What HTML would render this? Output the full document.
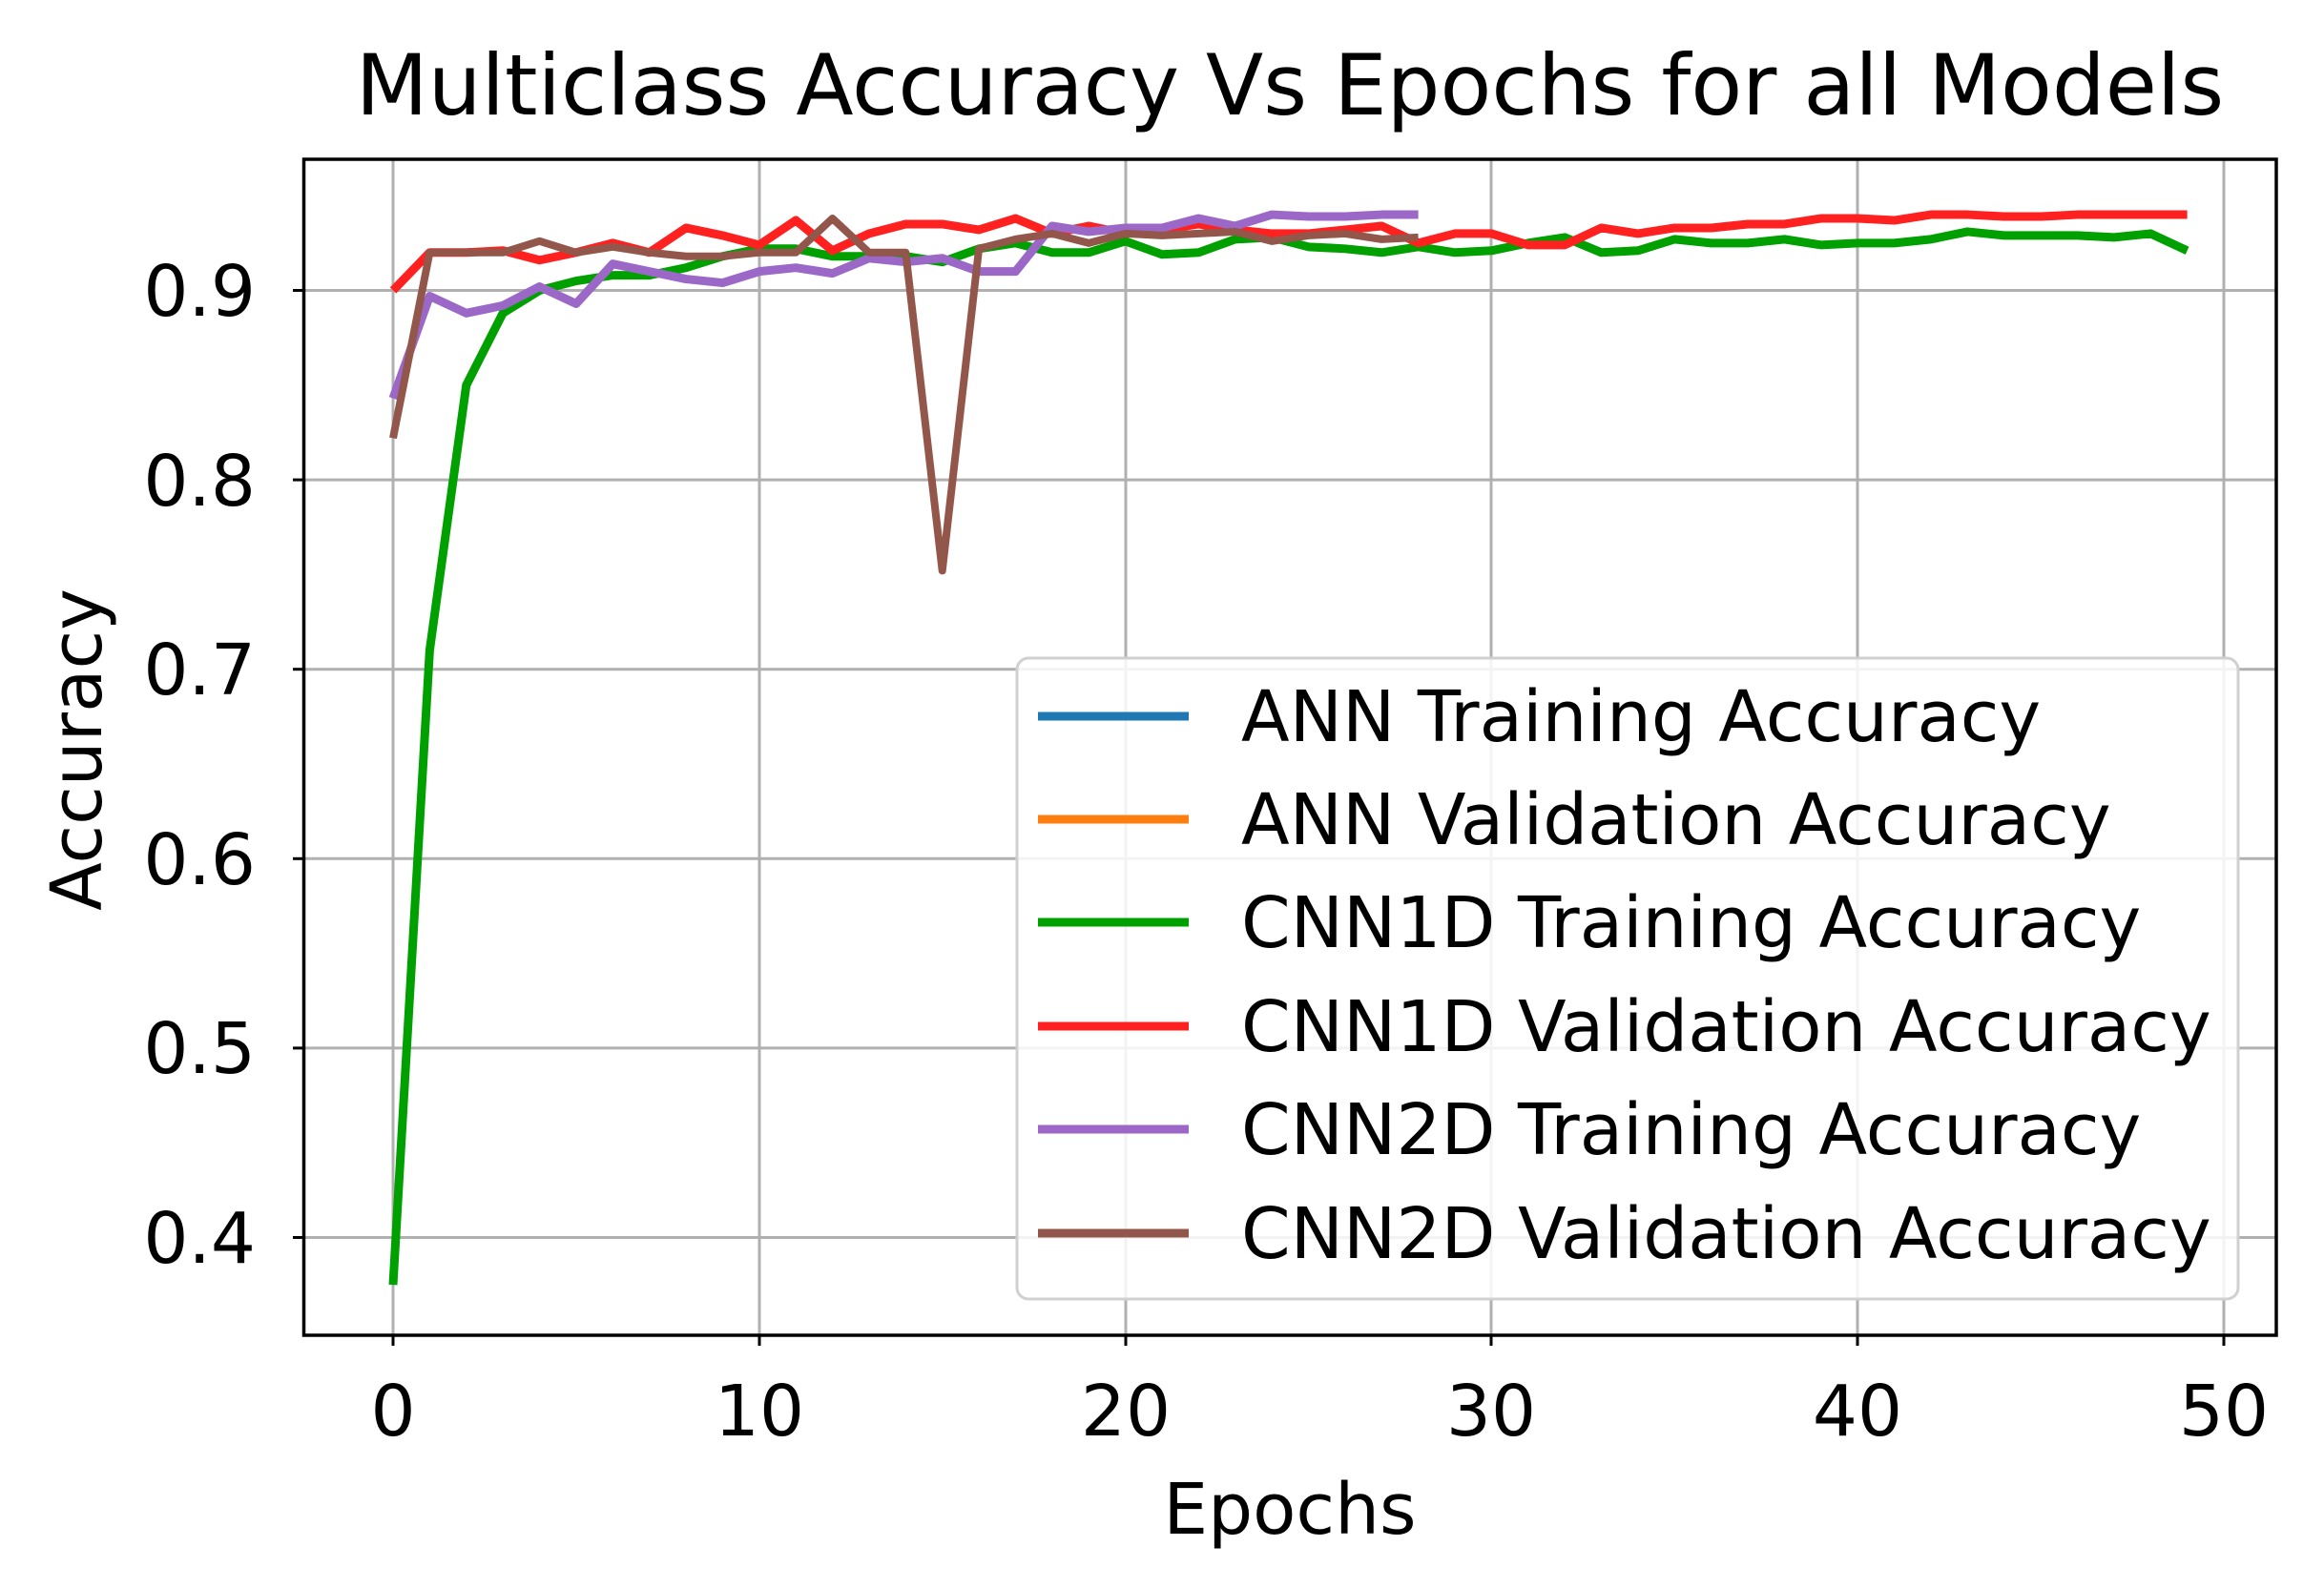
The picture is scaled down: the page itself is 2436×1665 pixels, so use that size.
<!DOCTYPE html>
<html><head><meta charset="utf-8"><style>
html,body{margin:0;padding:0;background:#fff;}
svg{display:block;}
text{font-family:"DejaVu Sans","Liberation Sans",sans-serif;fill:#000;}
</style></head><body>
<svg width="2436" height="1665" viewBox="0 0 2436 1665" xmlns="http://www.w3.org/2000/svg">
<rect width="2436" height="1665" fill="#fff"/>
<text x="1352" y="120" font-size="88" text-anchor="middle">Multiclass Accuracy Vs Epochs for all Models</text>
<g stroke="#b0b0b0" stroke-width="3">
<line x1="412" y1="167" x2="412" y2="1400"/>
<line x1="796" y1="167" x2="796" y2="1400"/>
<line x1="1180" y1="167" x2="1180" y2="1400"/>
<line x1="1563" y1="167" x2="1563" y2="1400"/>
<line x1="1947" y1="167" x2="1947" y2="1400"/>
<line x1="2331" y1="167" x2="2331" y2="1400"/>
<line x1="318" y1="304.5" x2="2386" y2="304.5"/>
<line x1="318" y1="503.1" x2="2386" y2="503.1"/>
<line x1="318" y1="701.7" x2="2386" y2="701.7"/>
<line x1="318" y1="900.3" x2="2386" y2="900.3"/>
<line x1="318" y1="1098.9" x2="2386" y2="1098.9"/>
<line x1="318" y1="1297.5" x2="2386" y2="1297.5"/>
</g>
<g fill="none" stroke-linejoin="round" transform="matrix(38.38 0 0 -1.986 412 2091.9)">
<polyline vector-effect="non-scaling-stroke" stroke="#00a000" stroke-width="9" points="0,375 1,710 2,850 3,888 4,900 5,905 6,908 7,908 8,912 9,918 10,922 11,922 12,918 13,918 14,918 15,915 16,922 17,925 18,920 19,920 20,926 21,919 22,920 23,927 24,928 25,923 26,922 27,920 28,923 29,920 30,921 31,925 32,928 33,920 34,921 35,927 36,925 37,925 38,927 39,924 40,925 41,925 42,927 43,931 44,929 45,929 46,929 47,928 48,930 49,921"/>
<polyline vector-effect="non-scaling-stroke" stroke="#ff2020" stroke-width="9" points="0,900 1,920 2,920 3,921 4,916 5,920 6,925 7,920 8,933 9,929 10,924 11,937 12,921 13,930 14,935 15,935 16,932 17,938 18,930 19,934 20,930 21,932 22,935 23,932 24,930 25,930 26,932 27,934 28,925 29,930 30,930 31,924 32,924 33,933 34,930 35,933 36,933 37,935 38,935 39,938 40,938 41,937 42,940 43,940 44,939 45,939 46,940 47,940 48,940 49,940"/>
<polyline vector-effect="non-scaling-stroke" stroke="#9b68c8" stroke-width="9" points="0,843 1,897 2,888 3,892 4,902 5,893 6,914 7,910 8,906 9,904 10,910 11,912 12,909 13,917 14,915 15,917 16,910 17,910 18,934 19,931 20,933 21,933 22,938 23,934 24,940 25,939 26,939 27,940 28,940"/>
<polyline vector-effect="non-scaling-stroke" stroke="#92564b" stroke-width="8" points="0,822 1,920 2,920 3,920 4,926 5,920 6,923 7,920 8,918 9,918 10,920 11,920 12,938 13,920 14,920 15,752 16,922 17,927 18,930 19,925 20,930 21,929 22,930 23,931 24,926 25,929 26,930 27,927 28,928"/>
</g>
<rect x="318.5" y="167" width="2067.5" height="1233" fill="none" stroke="#000" stroke-width="3.5"/>
<g stroke="#000" stroke-width="3">
<line x1="412" y1="1400" x2="412" y2="1411"/><line x1="796" y1="1400" x2="796" y2="1411"/><line x1="1180" y1="1400" x2="1180" y2="1411"/><line x1="1563" y1="1400" x2="1563" y2="1411"/><line x1="1947" y1="1400" x2="1947" y2="1411"/><line x1="2331" y1="1400" x2="2331" y2="1411"/>
<line x1="307" y1="304.5" x2="318" y2="304.5"/><line x1="307" y1="503.1" x2="318" y2="503.1"/><line x1="307" y1="701.7" x2="318" y2="701.7"/><line x1="307" y1="900.3" x2="318" y2="900.3"/><line x1="307" y1="1098.9" x2="318" y2="1098.9"/><line x1="307" y1="1297.5" x2="318" y2="1297.5"/>
</g>
<g font-size="74" text-anchor="middle">
<text x="412" y="1505">0</text><text x="796" y="1505">10</text><text x="1180" y="1505">20</text><text x="1563" y="1505">30</text><text x="1947" y="1505">40</text><text x="2331" y="1505">50</text>
</g>
<g font-size="74" text-anchor="end">
<text x="268" y="331">0.9</text><text x="268" y="530">0.8</text><text x="268" y="728">0.7</text><text x="268" y="927">0.6</text><text x="268" y="1125">0.5</text><text x="268" y="1324">0.4</text>
</g>
<text x="1352" y="1608" font-size="74" text-anchor="middle">Epochs</text>
<text transform="translate(106 786) rotate(-90)" font-size="74" text-anchor="middle">Accuracy</text>
<rect x="1066" y="690" width="1280" height="672" rx="12" fill="#fff" fill-opacity="0.85" stroke="#d0d0d0" stroke-width="3"/>
<g stroke-width="9">
<line x1="1088" y1="751" x2="1246" y2="751" stroke="#1f77b4"/>
<line x1="1088" y1="859" x2="1246" y2="859" stroke="#ff7f0e"/>
<line x1="1088" y1="967" x2="1246" y2="967" stroke="#00a000"/>
<line x1="1088" y1="1076" x2="1246" y2="1076" stroke="#ff2020"/>
<line x1="1088" y1="1184" x2="1246" y2="1184" stroke="#9b68c8"/>
<line x1="1088" y1="1293" x2="1246" y2="1293" stroke="#92564b"/>
</g>
<g font-size="74">
<text x="1301" y="777">ANN Training Accuracy</text>
<text x="1301" y="885">ANN Validation Accuracy</text>
<text x="1301" y="993">CNN1D Training Accuracy</text>
<text x="1301" y="1102">CNN1D Validation Accuracy</text>
<text x="1301" y="1210">CNN2D Training Accuracy</text>
<text x="1301" y="1319">CNN2D Validation Accuracy</text>
</g>
</svg>
</body></html>
